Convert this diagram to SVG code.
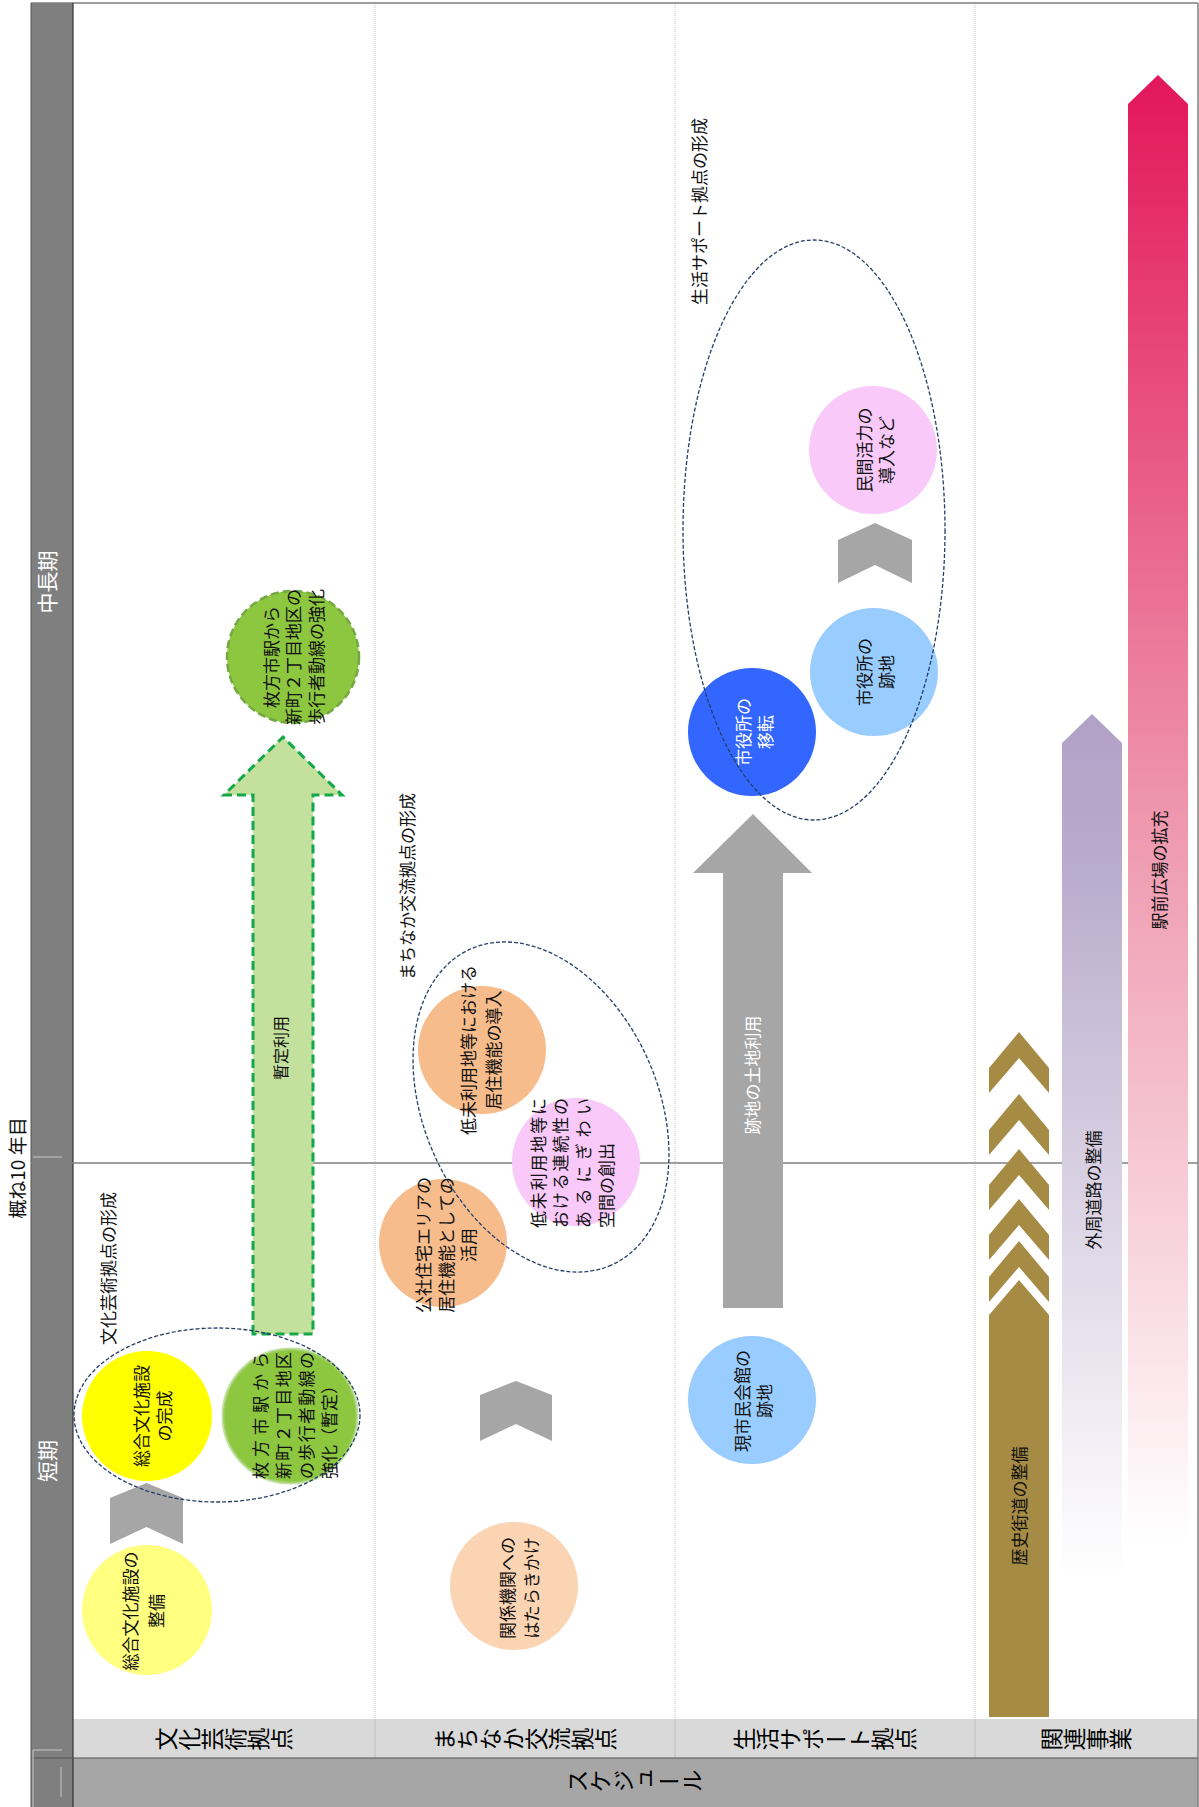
<svg xmlns="http://www.w3.org/2000/svg" width="1199" height="1807" viewBox="0 0 1199 1807">
<style>
.t{font-family:"Noto Sans CJK JP","Noto Sans",sans-serif;font-size:17px;fill:#111;text-anchor:middle;dominant-baseline:central}
.s{text-anchor:start}
.w{fill:#fff}
.hd{font-family:"Noto Sans CJK JP","Noto Sans",sans-serif;font-size:23px;fill:#000;writing-mode:vertical-rl;text-anchor:middle;dominant-baseline:central}
.pd{font-family:"Noto Sans CJK JP","Noto Sans",sans-serif;font-size:21px;fill:#fff;text-anchor:middle;dominant-baseline:central}
.div{stroke:#BFBFBF;stroke-width:1;stroke-dasharray:1 1}
.grp{fill:none;stroke:#263F66;stroke-width:1.3;stroke-dasharray:4 2}
.chev{fill:#A6A6A6}
.brown{fill:#A68B45}
</style>
<defs>
<linearGradient id="gPur" x1="0" y1="0" x2="0" y2="1">
<stop offset="0" stop-color="#B2A1C7"/>
<stop offset="0.15" stop-color="#B8A9CB"/>
<stop offset="1" stop-color="#FFFFFF"/>
</linearGradient>
<linearGradient id="gRed" x1="0" y1="0" x2="0" y2="1">
<stop offset="0" stop-color="#E3165B"/>
<stop offset="0.5" stop-color="#EE96AD"/>
<stop offset="1" stop-color="#FFFFFF"/>
</linearGradient>
</defs>

<g id="frame">
<rect x="0" y="0" width="1199" height="1807" fill="#fff"/>
<rect x="31" y="3" width="42" height="1804" fill="#7F7F7F"/>
<rect x="73" y="1719" width="1125" height="39" fill="#D9D9D9"/>
<rect x="73" y="1758" width="1125" height="49" fill="#A6A6A6"/>
<line x1="375" y1="3" x2="375" y2="1719" class="div"/>
<line x1="675" y1="3" x2="675" y2="1719" class="div"/>
<line x1="975" y1="3" x2="975" y2="1719" class="div"/>
<line x1="375" y1="1719" x2="375" y2="1758" stroke="#BFBFBF"/>
<line x1="675" y1="1719" x2="675" y2="1758" stroke="#BFBFBF"/>
<line x1="975" y1="1719" x2="975" y2="1758" stroke="#BFBFBF"/>
<line x1="31" y1="3" x2="1198" y2="3" stroke="#7F7F7F" stroke-width="1.5"/>
<line x1="1198" y1="3" x2="1198" y2="1807" stroke="#7F7F7F" stroke-width="1.5"/>
<line x1="31" y1="3" x2="31" y2="1807" stroke="#555" stroke-width="1"/>
<line x1="73" y1="3" x2="73" y2="1807" stroke="#333" stroke-width="1.2"/>
<line x1="31" y1="1758" x2="1198" y2="1758" stroke="#555" stroke-width="1.2"/>
<line x1="31" y1="1163" x2="1198" y2="1163" stroke="#7F7F7F" stroke-width="1.5"/>
<line x1="33" y1="1157" x2="62" y2="1157" stroke="#C8C8C8"/>
<line x1="33" y1="1750" x2="62" y2="1750" stroke="#C8C8C8"/>
<line x1="61" y1="1767" x2="61" y2="1797" stroke="#C8C8C8"/>
<line x1="33" y1="1750" x2="33" y2="1807" stroke="#C8C8C8"/>
<text class="t" style="font-size:19px" transform="translate(16,1168) rotate(-90)">概ね10 年目</text>
<text class="pd" transform="translate(46,582) rotate(-90)">中長期</text>
<text class="pd" transform="translate(46,1461) rotate(-90)">短期</text>
<text class="hd" transform="translate(224,1739) rotate(-90)">文化芸術拠点</text>
<text class="hd" transform="translate(525,1739) rotate(-90)">まちなか交流拠点</text>
<text class="hd" transform="translate(825,1739) rotate(-90)">生活サポート拠点</text>
<text class="hd" transform="translate(1086,1739) rotate(-90)">関連事業</text>
<text class="hd" transform="translate(635,1781) rotate(-90)">スケジュール</text>
</g>

<g id="connectors">
<polygon id="arrow-zantei" points="253,1334 253,795 224,795 283,737 342,795 313,795 313,1334" fill="#C4E09D" stroke="#14A84B" stroke-width="3" stroke-dasharray="9 5"/>
<text class="t" style="font-size:16px" transform="translate(280,1048) rotate(-90)">暫定利用</text>
<polygon id="chev1" class="chev" points="110,1498 146.5,1483 183,1498 183,1544 146.5,1527 110,1544"/>
<polygon id="chev2" class="chev" points="480,1395 516,1381 552,1395 552,1441 516,1424 480,1441"/>
<polygon id="chev3" class="chev" points="838,540 875,523 912,540 912,583 875,565 838,583"/>
<polygon id="arrow-atochi" class="chev" points="723,1308 723,873 693,873 753,814 812,873 783,873 783,1308"/>
<text class="t w" transform="translate(751,1075) rotate(-90)">跡地の土地利用</text>
</g>

<g id="node-sogo-seibi">
<circle cx="147" cy="1610" r="65" fill="#FFFF80"/>
<text class="t" transform="translate(129,1611) rotate(-90)">総合文化施設の</text>
<text class="t" transform="translate(155,1611) rotate(-90)">整備</text>
</g>
<g id="node-sogo-kansei">
<circle cx="147" cy="1416" r="65" fill="#FFFF00"/>
<text class="t" transform="translate(140,1416) rotate(-90)">総合文化施設</text>
<text class="t" transform="translate(163,1416) rotate(-90)">の完成</text>
</g>
<g id="node-hokou-zantei">
<circle cx="290" cy="1416" r="67" fill="#8DC63F" stroke="#A9D47A" stroke-width="3" stroke-opacity="0.7"/>
<text class="t s" textLength="127" lengthAdjust="spacing" transform="translate(259,1479) rotate(-90)">枚方市駅から</text>
<text class="t s" textLength="127" lengthAdjust="spacing" transform="translate(282,1479) rotate(-90)">新町２丁目地区</text>
<text class="t s" textLength="127" lengthAdjust="spacing" transform="translate(305,1479) rotate(-90)">の歩行者動線の</text>
<text class="t s" transform="translate(328,1479) rotate(-90)">強化（暫定）</text>
</g>
<g id="group-bunka">
<ellipse cx="217" cy="1415" rx="143" ry="87" class="grp"/>
<text class="t s" transform="translate(107,1345) rotate(-90)">文化芸術拠点の形成</text>
</g>
<g id="node-hokou">
<circle cx="293" cy="657" r="66" fill="#8DC63F" stroke="#74A843" stroke-width="2.5" stroke-dasharray="8 4"/>
<text class="t" transform="translate(270,657) rotate(-90)">枚方市駅から</text>
<text class="t" transform="translate(292,657) rotate(-90)">新町２丁目地区の</text>
<text class="t" transform="translate(315,657) rotate(-90)">歩行者動線の強化</text>
</g>

<g id="node-kankei">
<circle cx="514" cy="1586" r="64" fill="#FBD4B4"/>
<text class="t" transform="translate(506,1588) rotate(-90)">関係機関への</text>
<text class="t" transform="translate(530,1588) rotate(-90)">はたらきかけ</text>
</g>
<g id="node-kosha">
<circle cx="443" cy="1243" r="64" fill="#F7BC8C"/>
<text class="t" transform="translate(422,1245) rotate(-90)">公社住宅エリアの</text>
<text class="t" transform="translate(445,1245) rotate(-90)">居住機能としての</text>
<text class="t" transform="translate(467,1245) rotate(-90)">活用</text>
</g>
<g id="node-kyoju">
<circle cx="482" cy="1050" r="64" fill="#F7BC8C"/>
<text class="t" transform="translate(467,1050) rotate(-90)">低未利用地等における</text>
<text class="t" transform="translate(492,1050) rotate(-90)">居住機能の導入</text>
</g>
<g id="node-nigiwai">
<circle cx="576" cy="1162" r="64" fill="#F9C9F9"/>
<text class="t s" textLength="130" lengthAdjust="spacing" transform="translate(537,1228) rotate(-90)">低未利用地等に</text>
<text class="t s" textLength="130" lengthAdjust="spacing" transform="translate(559,1228) rotate(-90)">おける連続性の</text>
<text class="t s" textLength="130" lengthAdjust="spacing" transform="translate(582,1228) rotate(-90)">あるにぎわい</text>
<text class="t s" transform="translate(605,1228) rotate(-90)">空間の創出</text>
</g>
<g id="group-machinaka">
<ellipse cx="0" cy="0" rx="173" ry="117" class="grp" transform="translate(541,1107) rotate(66)"/>
<text class="t s" transform="translate(406,980) rotate(-90)">まちなか交流拠点の形成</text>
</g>

<g id="node-shiminkaikan">
<circle cx="752" cy="1400" r="64" fill="#99CCFF"/>
<text class="t" transform="translate(741,1401) rotate(-90)">現市民会館の</text>
<text class="t" transform="translate(763,1401) rotate(-90)">跡地</text>
</g>
<g id="node-iten">
<circle cx="752" cy="732" r="64" fill="#3366FF"/>
<text class="t w" transform="translate(742,732) rotate(-90)">市役所の</text>
<text class="t w" transform="translate(764,732) rotate(-90)">移転</text>
</g>
<g id="node-shiyakusho-atochi">
<circle cx="874" cy="672" r="64" fill="#99CCFF"/>
<text class="t" transform="translate(863,672) rotate(-90)">市役所の</text>
<text class="t" transform="translate(885,672) rotate(-90)">跡地</text>
</g>
<g id="node-minkan">
<circle cx="873" cy="450" r="64" fill="#F9C9F9"/>
<text class="t" transform="translate(863,450) rotate(-90)">民間活力の</text>
<text class="t" transform="translate(885,450) rotate(-90)">導入など</text>
</g>
<g id="group-seikatsu">
<ellipse cx="814" cy="530" rx="131" ry="290" class="grp"/>
<text class="t s" transform="translate(698,305) rotate(-90)">生活サポート拠点の形成</text>
</g>

<g id="node-rekishi">
<polygon class="brown" points="989,1068 1019,1032 1049,1068 1049,1093 1019,1058 989,1093"/>
<polygon class="brown" points="989,1130 1019,1094 1049,1130 1049,1155 1019,1120 989,1155"/>
<polygon class="brown" points="989,1185 1019,1149 1049,1185 1049,1210 1019,1175 989,1210"/>
<polygon class="brown" points="989,1235 1019,1199 1049,1235 1049,1260 1019,1225 989,1260"/>
<polygon class="brown" points="989,1277 1019,1241 1049,1277 1049,1302 1019,1267 989,1302"/>
<polygon class="brown" points="989,1717 989,1315 1019,1280 1049,1315 1049,1717"/>
<text class="t" transform="translate(1018,1506) rotate(-90)">歴史街道の整備</text>
</g>
<g id="node-gaishu">
<polygon points="1062,743 1092,714 1122,743 1122,1578 1062,1578" fill="url(#gPur)"/>
<text class="t" transform="translate(1092,1190) rotate(-90)">外周道路の整備</text>
</g>
<g id="node-ekimae">
<polygon points="1128,104 1158,75 1188,104 1188,1544 1128,1544" fill="url(#gRed)"/>
<text class="t" transform="translate(1158,870) rotate(-90)">駅前広場の拡充</text>
</g>
</svg>
